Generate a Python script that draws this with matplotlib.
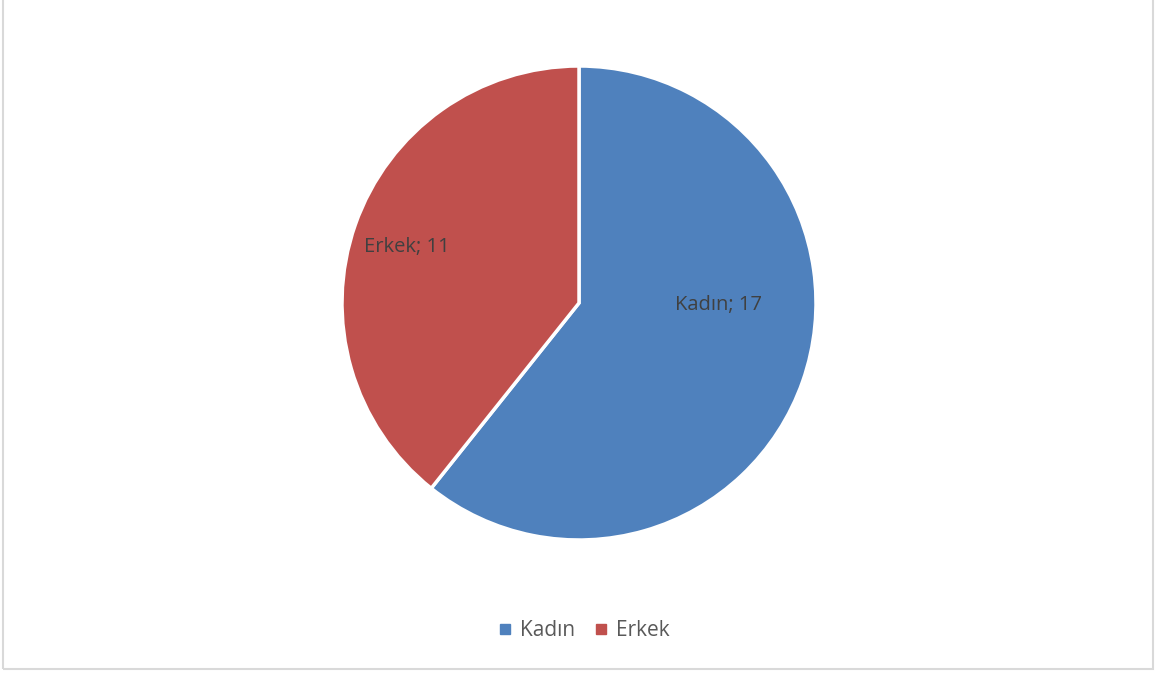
import matplotlib.pyplot as plt
from matplotlib.patches import Rectangle
from matplotlib.lines import Line2D

labels = ['Kadın', 'Erkek']
values = [17, 11]
colors = ['#4F81BD', '#C0504D']

# label offsets relative to pie centre, in radius units
label_pos = [(0.59, -0.01), (-0.725, 0.235)]

W, H = 1157, 674
fig = plt.figure(figsize=(W / 100, H / 100), dpi=100)
plt.rcParams['font.family'] = ['Open Sans', 'DejaVu Sans']

ax = fig.add_axes([0, 0, 1, 1])
cx, cy, r = 579, 674 - 303, 237
wedges, _ = ax.pie(values, colors=colors, startangle=90, counterclock=False,
                   center=(cx, cy), radius=r,
                   wedgeprops=dict(edgecolor='white', linewidth=2.5))
ax.set_xlim(0, W)
ax.set_ylim(0, H)
ax.set_aspect('auto')
ax.axis('off')

for lab, val, (dx, dy) in zip(labels, values, label_pos):
    ax.text(cx + dx * r, cy + dy * r, f'{lab}; {val}', ha='center', va='center',
            fontsize=14.5, color='#404040')

# chart border
ax.add_patch(Rectangle((2.5, 5.5), 1150.5, 700, fill=False,
                       edgecolor='#d9d9d9', linewidth=1.5, clip_on=False))

handles = [Line2D([], [], marker='s', linestyle='none', markersize=7,
                  markerfacecolor=c, markeredgecolor=c) for c in colors]
fig.legend(handles, labels, loc='center', bbox_to_anchor=(582 / W, 1 - 631 / H),
           ncol=2, frameon=False, fontsize=15, labelcolor='#595959',
           handletextpad=0.2, columnspacing=0.75, handlelength=1.0)

fig.savefig('out.png', dpi=100)
